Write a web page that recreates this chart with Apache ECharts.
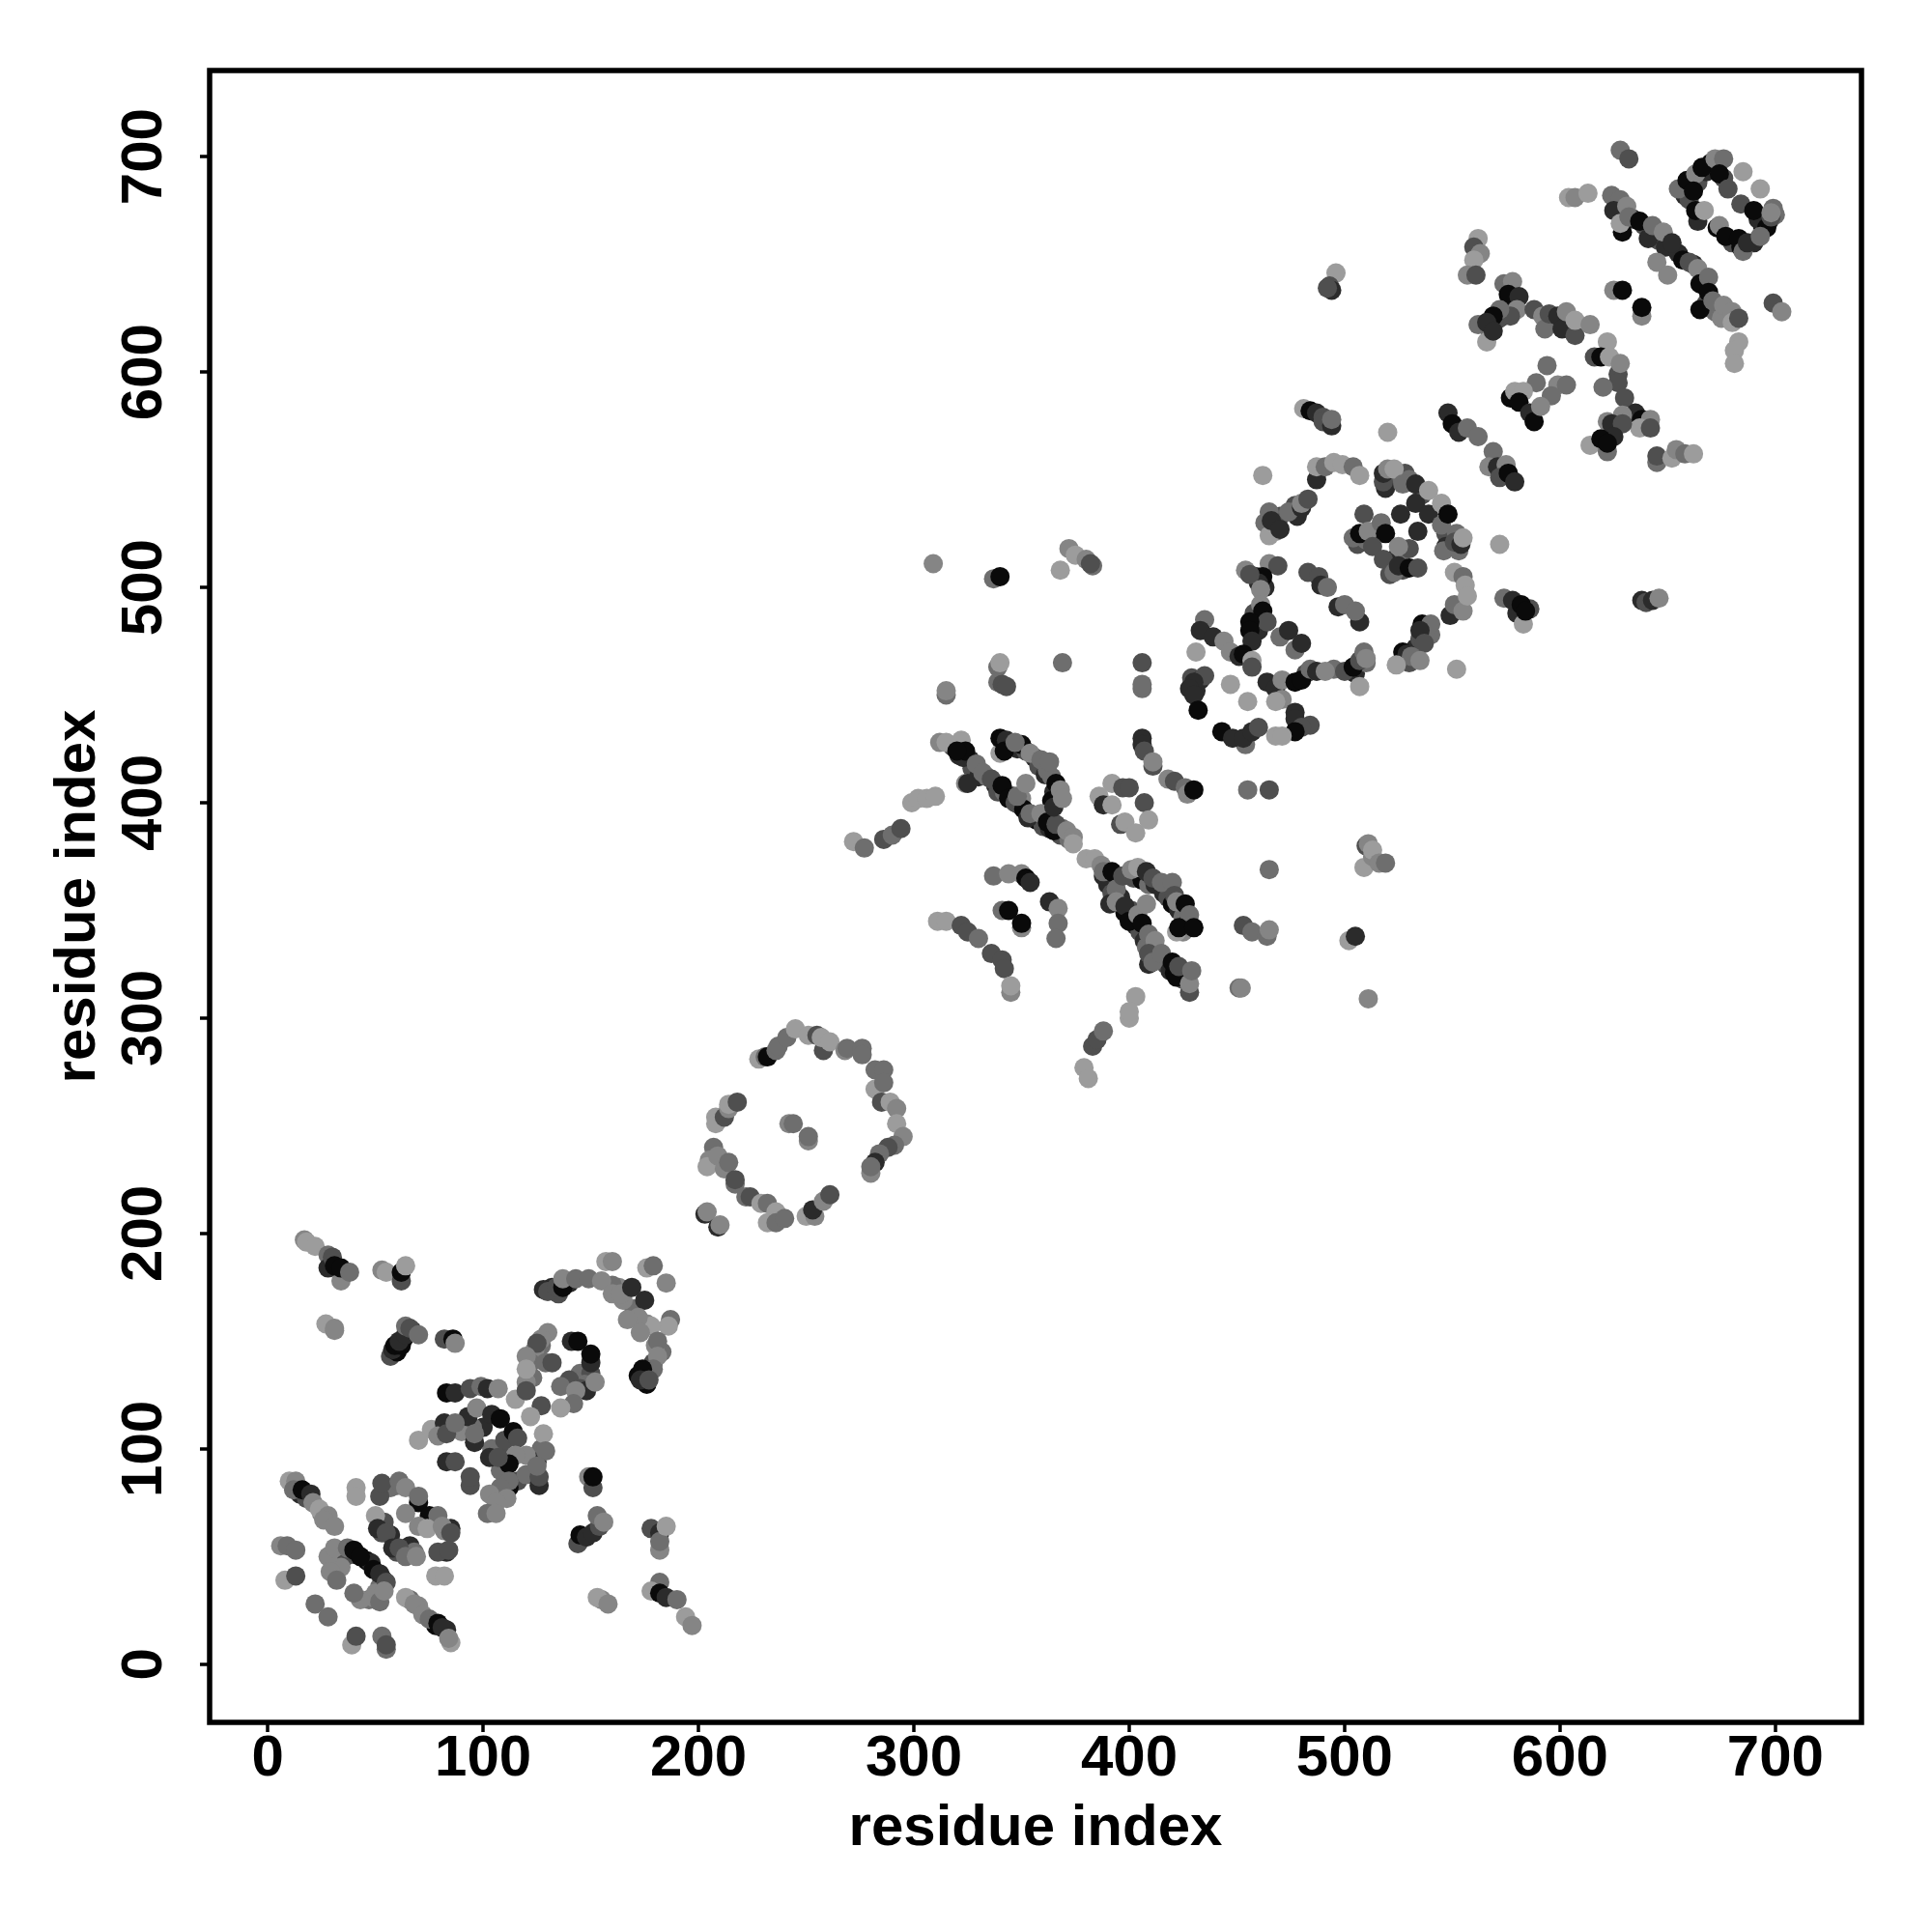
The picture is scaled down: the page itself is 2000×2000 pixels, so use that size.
<!DOCTYPE html>
<html><head><meta charset="utf-8">
<style>html,body{margin:0;padding:0;background:#fff}#c{width:2000px;height:2000px}</style>
<script src="https://cdn.jsdelivr.net/npm/echarts@6/dist/echarts.min.js"></script>
</head><body><div id="c"></div>
<script>
// each contact: [residue i, residue j, shade level 1 (black) .. 6 (light grey)]
const tickValues = [0,100,200,300,400,500,600,700];
const axisTitle = 'residue index';
const blockFill = [[318,426,3],[321,422,2],[326,420,2],[327,416,3],[330,412,2],[334,412,4],[338,408,2],[339,405,3],[342,405,4],[346,403,2],[349,399,2],[350,402,5],[355,393,3],[357,392,1],[360,389,3],[363,388,2],[368,385,3],[369,388,4],[372,383,4],
[345,426,1],[348,425,2],[352,424,3],[356,421,2],[358,417,3],[361,413,2],[364,412,4],[365,405,2],[366,402,3],[364,401,1],
[390,362,2],[392,358,3],[396,356,2],[398,349,1],[401,350,3],[403,343,2],[405,340,3],[407,336,2],[408,333,4],[411,330,5],[414,327,2],[417,325,3],[419,322,2],[421,321,1],[425,318,3],[427,320,5],
[402,365,3],[406,364,1],[409,362,4],[412,362,2],[416,358,2],[418,356,3],[420,353,1],[423,350,2],[425,347,4],[427,344,2],[425,340,5],
[634,671,2],[639,668,3],[646,661,3],[649,658,2],[655,655,2],[662,650,2],[667,640,2],[668,632,3],[672,628,4],[677,628,3],[675,625,5],[664,688,3],[668,693,2],[670,697,1],[673,695,2],[676,690,3],[658,682,2],[660,680,3],[664,670,2],[680,660,3],[684,658,1],[690,660,2],[694,668,1],[697,670,2],[700,673,4],[692,671,2],[575,630,2],[572,625,3],[567,620,4],
[108,100,3],[104,100,4],[100,110,2],[110,104,3],[92,112,3],[95,110,4],[90,108,5],[108,90,4],[116,85,3],[120,88,4],[125,97,5],[127,100,4],
[460,480,2],[458,488,3],[463,500,2],[459,505,2],[431,452,2],[429,458,3],[433,457,2],[482,460,3],[495,462,4],[505,460,2],[510,465,4],[530,465,3],[533,472,2],[535,476,3],[538,480,3],[540,478,4],[527,508,3],[521,506,3],[523,513,2],[527,517,4],[512,525,2],[506,520,3],[510,522,4],[547,525,3],[552,525,4],[547,519,2],[553,517,4],[528,553,3],[522,551,4],[519,546,2],[530,550,4],[536,543,3],[470,533,3],[477,538,3],[468,526,5],[478,533,2],[463,530,4],[586,490,3],[580,488,2],
[60,147,3],[63,151,1],[67,155,2],[40,51,2],[46,48,1],[48,47,2],[53,40,1],[52,36,4],[50,33,5],[47,30,4],[30,48,4],[34,52,4],[36,50,3],[34,45,5],[78,18,1],[83,16,2],[70,27,5],[66,30,4],[12,83,3],[15,79,2],[18,77,3],[25,70,5],[60,83,4],[57,82,4],[52,65,4],[54,66,3],[57,60,2],[53,61,3],[60,52,3],[66,55,2],[68,52,4],[85,63,2],[82,62,5],[83,52,2],[140,177,2],[132,175,2],[128,174,2],[135,172,3],[170,165,4],[176,158,5],[183,145,4],[179,140,3],[175,134,2],[176,130,1],[172,134,1],[180,148,5],[163,175,5],[160,176,4],[165,169,5],[127,148,4],[124,146,5],[122,140,4],[123,133,4],[120,131,5],[145,135,4],[150,135,3],[147,130,4],[145,128,3]];
const blockOffDiagLow = [[17,197,5],[18,196,6],[22,194,6],[34,178,5],[28,190,4],[28,184,2],[30,189,3],[31,185,1],[34,184,1],[38,182,4],
[53,183,5],[55,182,6],[62,178,3],[62,182,1],[64,185,6],[27,158,6],[31,155,5],[31,156,5],
[57,143,3],[60,145,1],[58,146,2],[59,148,1],[62,148,1],[61,150,2],[64,153,2],[64,157,4],[66,156,3],[70,153,4],
[82,151,3],[86,151,1],[87,149,5],[149,87,5],[151,82,3],[151,87,1],[144,56,3],[145,60,1],[148,59,2],[151,61,2],[154,64,3],[153,69,4],[156,66,5],
[178,63,3],[182,61,2],[182,53,5],[182,57,4],[185,64,6],[155,30,5],[153,31,6],[158,28,5],
[182,38,4],[178,34,6],[182,33,1],[185,31,2],[190,30,4],[194,22,6],[197,18,5]];
const blockTopArc = [[130,173,3],[134,175,3],[137,175,1],[137,179,5],[143,179,4],[149,179,4],[155,178,5],[157,187,6],[160,187,5],[160,172,5],[164,172,5],[169,175,2],[175,169,2],
[176,184,6],[179,185,4],[185,177,5],[187,160,4],[186,157,6],[178,157,6],[172,161,5],[167,160,5],[173,154,5],[181,150,4],[181,143,5],[179,137,4],[174,137,1],[173,132,2],[177,132,3]];
const blockCoilA = [[130,154,5],[127,151,5],[125,149,3],[120,143,5],[120,137,6],[129,140,4],[132,140,3],[141,150,2],[144,150,1],[150,140,2],[150,144,1],[140,132,3],[136,129,4],[148,127,2],[152,131,5],[143,127,5],[142,121,4],[136,119,6],[115,123,6],[120,127,3],[127,120,3],[122,115,6],
[83,126,1],[87,126,2],[94,128,3],[99,129,4],[102,128,2],[107,128,5],[93,115,2],[97,119,5],[104,116,2],[108,114,1],[96,103,2],[96,107,4],[114,108,1],[116,105,3],[128,107,6],[125,94,2],[129,99,4],[120,97,5],[115,97,5],[112,93,1],[103,96,2],[107,96,3],
[70,104,6],[76,109,6],[82,112,2],[79,106,5],[83,107,3],[87,112,4],[83,94,2],[87,94,3],[94,83,3],[94,87,3],[112,82,1],[112,85,4],[108,82,4],[103,79,5],[111,77,5],[106,75,5],[102,70,4],[106,70,5],[126,83,2],[126,87,3],[125,92,4]];
const blockCoilB = [[10,85,6],[13,85,5],[12,81,4],[16,81,1],[20,79,2],[21,75,5],[24,72,6],[28,69,5],[26,67,5],[31,64,5],[41,82,6],[41,78,6],
[52,78,3],[53,84,3],[61,85,4],[64,82,5],[70,75,1],[70,78,4],[64,70,5],[75,69,1],[79,69,4],[70,64,5],[74,63,6],[81,64,5],[85,61,3],[79,52,3],[84,53,3],[78,41,6],[82,41,6],
[50,69,6],[51,63,2],[55,61,3],[58,54,2],[61,54,3],[64,50,4],[69,50,5],[6,55,5],[9,55,4],[13,53,4],[8,39,6],[13,41,3],
[28,50,5],[29,43,5],[32,39,4],[31,54,5],[37,54,4],[40,53,1],[43,50,1],[49,44,1],[52,42,2],[55,38,3],[49,31,5],[43,30,5],[40,33,4],[52,29,4],[54,34,5],
[22,28,4],[28,22,4],[39,9,6],[41,13,3],[53,13,4],[55,7,4],[55,9,3],[64,31,6],[68,28,5],[72,23,5],[75,21,4],[79,19,1],[81,17,2],[85,10,6],[84,12,5]];
const blockRing = [[228,281,6],[231,282,4],[232,282,1],[236,285,4],[237,287,4],[241,291,4],[245,295,6],[251,292,6],[255,292,3],[258,285,3],[257,291,6],[261,289,6],[268,285,5],[269,286,4],[276,286,4],[276,283,4],[282,276,4],[286,276,4],[282,267,6],[286,270,4],[285,261,3],[289,261,6],[292,258,5],[292,251,6],[295,245,5],[291,241,4],[288,240,3],[284,237,4],[282,233,2],[280,228,5],[280,231,4],
[208,254,6],[208,251,6],[212,254,3],[214,258,5],[214,260,6],[218,261,3],[207,240,4],[205,234,5],[204,231,6],[209,236,5],[212,230,5],[214,233,4],[217,223,4],[217,225,3],[222,217,4],[224,217,3],[229,214,6],[232,214,4],[236,210,6],[232,205,6],[236,205,4],[240,207,4],
[250,208,6],[254,208,5],[253,211,2],[258,215,5],[261,218,3],[203,209,2],[204,210,5],[209,203,2],[210,204,5],[242,251,5],[244,251,4],[251,243,5],[251,245,4]];
const blockBarrelUpper = [[315,450,4],[315,452,5],[339,463,4],[340,465,6],[339,456,4],[341,455,3],[343,454,3],[369,465,4],[406,465,3],[406,453,4],[406,455,4],[455,406,4],[465,406,3],[465,369,4],[451,314,4],[452,314,5],[453,343,3],[457,340,4],[464,338,4],[465,341,5],
[272,382,6],[277,379,4],[286,383,3],[290,385,4],[294,388,3],[299,400,6],[302,402,6],[306,402,6],[310,403,6],
[312,428,5],[315,428,6],[322,429,6],[323,421,2],[324,424,1],[320,424,1],[329,418,4],[324,409,5],[325,409,2],[332,414,4],[336,411,3],[341,408,1],[344,402,1],[347,400,3],[351,397,1],[353,393,2],[354,395,4],[359,395,5],[362,391,1],[365,387,1],[366,390,3],[371,387,5],[374,384,5],[374,381,6],[348,403,4],[352,409,5],
[340,423,6],[340,430,1],[343,429,2],[342,424,1],[350,427,1],[347,428,4],[354,423,5],[359,420,4],[362,415,4],[363,419,4],[366,409,1],[365,398,2],[368,406,5],[369,402,5],
[392,409,6],[397,407,3],[400,407,3],[386,403,6],[388,399,2],[392,399,6],[407,400,3],[396,390,3],[398,391,6],[403,386,6],[409,392,6],
[406,430,2],[406,427,2],[407,424,3],[411,417,3],[411,419,5],[418,411,5],[421,410,3],[426,407,4],[427,404,5],[430,406,1]];
const blockBarrelLower = [[380,374,6],[384,374,6],[387,371,5],[388,366,2],[388,368,4],[392,368,1],[394,360,4],[397,366,3],[401,369,5],[404,370,6],[408,368,2],[411,365,3],[415,363,4],[420,363,4],[421,357,3],[422,354,5],[426,353,1],[428,348,4],[422,340,6],[423,342,1],[430,342,1],
[391,353,2],[394,354,5],[398,352,2],[400,345,1],[404,348,5],[406,344,1],[408,353,5],[409,339,4],[412,336,5],[409,325,2],[409,330,3],[411,326,4],[415,330,4],[420,326,1],[422,319,1],[423,324,3],[428,312,3],[428,316,5],[429,322,4],
[337,366,4],[344,367,5],[350,367,5],[352,365,1],[354,363,2],[363,354,2],[367,351,5],[367,344,4],[366,337,4],[341,350,4],[344,350,1],[350,342,5],[350,344,1],
[311,345,6],[315,345,6],[322,343,3],[325,340,3],[330,337,4],[336,330,3],[341,327,3],[342,323,3],[345,312,5],[345,315,6],
[403,310,6],[400,300,6],[400,303,6],[383,287,3],[385,290,3],[388,294,4],[379,277,6],[381,272,6]];
const blockCentral = [[481,583,6],[484,582,1],[487,581,2],[490,579,3],[490,577,3],[494,575,2],[494,578,4],[462,552,6],[520,572,6],
[465,524,6],[465,535,4],[466,531,2],[470,527,2],[474,535,4],[480,537,2],[480,539,5],[483,541,3],[487,550,2],[487,556,6],[491,556,4],[495,558,6],[499,557,6],[504,556,4],[507,552,6],
[518,549,3],[518,553,2],[520,555,5],[523,555,6],[527,548,4],[533,548,2],[533,539,2],[539,545,6],[539,534,2],[545,539,6],[545,529,4],[548,534,1],[546,517,4],[551,521,3],[554,520,2],[555,523,6],
[509,534,3],[504,523,4],[507,525,1],[511,526,5],[517,530,4],[519,525,1],[513,519,3],[526,534,2],[534,526,2],[530,518,3],[525,519,5],[518,513,3],[523,507,4],[525,510,2],[530,509,1],[534,509,3],[572,520,6],
[551,507,6],[555,505,4],[556,501,6],[549,487,2],[551,492,4],[555,489,5],[557,496,6],[583,483,6],[574,495,4],[578,494,2],[582,492,1],[584,489,1],
[536,483,1],[540,483,4],[535,480,2],[537,474,3],[527,470,1],[529,469,2],[531,468,4],[535,466,5],[524,464,6],[552,462,6],
[483,507,3],[488,505,3],[489,501,2],[492,500,4],[497,491,2],[500,492,4],[507,484,2],[505,489,4],
[465,511,5],[469,510,3],[462,505,1],[460,502,2],[454,508,5],[456,506,3],[461,499,5],[461,492,5],[462,489,1],[464,484,3],[456,484,1],[456,480,1],[457,475,2],[470,477,4],[474,480,2],[477,471,4],[480,474,2],
[435,485,4],[433,480,2],[439,477,2],[444,475,5],[431,470,6],[447,470,5],[451,468,2],[453,469,1],[457,466,6],[457,463,3],
[435,459,3],[430,456,2],[428,453,2],[430,450,2],[432,443,1],[447,455,6],[455,447,6],
[464,456,2],[468,453,2],[471,457,5],[471,448,5],[468,447,6],[477,456,1],[480,457,1],[484,462,4],[487,461,2],[491,461,5],[500,461,3],[504,463,1],[507,466,3],[509,470,4],[510,467,5],[507,454,6],
[477,442,2],[477,439,2],[484,436,3],[480,435,3],[477,433,1],[468,431,6],[471,431,6],[443,433,1],[454,427,4],[448,430,2],[453,430,2],[457,433,2],[460,435,3],
[496,646,6],[493,640,3],[494,638,2],[492,639,3],[638,494,2],[640,493,3],[643,494,2],[646,495,5],
[510,380,3],[509,370,6],[511,381,5],[513,375,5],[513,378,6],[516,372,5],[519,372,4],[502,336,6],[505,338,2],[511,309,5],
[337,504,4],[340,505,1],[309,511,5],[368,508,6],[372,518,5],[375,515,6],[380,513,5],[383,510,4],[382,511,3]];
const blockCTerminal = [[628,703,4],[632,699,3],[604,681,6],[607,681,5],[613,683,6],[624,682,4],[628,680,4],[625,675,2],[631,677,5],[629,665,1],[628,669,6],[632,672,4],[637,670,1],[641,662,2],[643,668,4],[648,665,5],[652,660,2],[645,651,5],[650,645,5],[657,652,1],[660,651,3],[664,648,5],[665,641,1],[669,644,4],[665,629,1],[669,637,1],[671,633,4],[676,631,5],[680,628,5],[680,623,6],[683,625,3],[683,614,6],[681,610,6],[681,604,6],[699,632,3],[703,628,5],
[655,685,4],[659,689,1],[663,692,5],[666,695,1],[672,699,5],[676,699,4],[674,692,1],[678,685,3],[685,693,6],[693,685,6],[662,684,1],[663,675,1],[667,675,6],[673,667,1],[674,668,5],[677,663,1],[683,662,1],[685,656,4],[687,660,2],[684,678,3],[690,675,1],[696,667,1],[693,663,4],[698,672,3],[699,676,4],[698,674,5],
[562,662,6],[560,658,3],[563,655,5],[560,652,6],[557,645,5],[561,645,3],
[574,641,4],[578,642,5],[576,636,1],[581,635,2],[580,629,5],[577,626,3],[572,629,4],[569,626,1],[562,622,4],[566,623,2],[566,614,6],[569,619,2],
[588,629,3],[592,626,5],[593,620,4],[595,627,3],[599,626,2],[601,620,2],[603,628,5],[607,617,3],[607,624,6],[614,622,5],
[622,614,6],[616,607,3],[619,607,1],[623,607,6],[627,599,3],[628,604,5],[627,595,3],[620,593,4],[630,588,3],
[635,581,2],[629,580,5],[638,578,1],[642,578,5],[637,574,6],[642,574,3],[622,577,5],[624,576,2],[629,576,3],[625,570,2],[614,566,6],[622,563,4],[619,569,1],[622,567,1],
[645,558,4],[645,561,3],[652,560,6],[654,564,5],[658,562,4],[662,562,6],
[594,603,4],[589,595,4],[599,594,5],[603,594,4],[577,588,1],[579,591,6],[583,591,6],[581,586,1],[596,589,4],[586,581,2],[588,577,1],[591,584,5],
[548,581,2],[550,576,1],[553,572,2],[557,574,4],[562,570,4],[569,563,4],[567,556,5],[571,556,2],[575,557,5],[572,551,3],[576,553,1],[579,549,2],
[625,638,5],[629,638,1],[638,626,5],[638,630,1]];

const contacts = [].concat(blockFill, blockOffDiagLow, blockTopArc, blockCoilA, blockCoilB, blockRing, blockBarrelUpper, blockBarrelLower, blockCentral, blockCTerminal);
const font = '"Liberation Sans", Arial, sans-serif';
const axisCommon = {
  type:'value', min:-27, max:740, name:axisTitle, nameLocation:'middle', nameMoveOverlap:false,
  nameTextStyle:{fontFamily:font,fontWeight:'bold',fontSize:60,color:'#000'},
  axisLine:{show:false,onZero:false}, splitLine:{show:false},
  axisTick:{show:true,length:10,inside:false,customValues:tickValues,lineStyle:{color:'#000',width:3.5}},
  axisLabel:{show:true,customValues:tickValues,fontFamily:font,fontWeight:'bold',fontSize:60,color:'#000',showMinLabel:true,showMaxLabel:true}
};
const chart = echarts.init(document.getElementById('c'),null,{renderer:'canvas'});
chart.setOption({
  animation:false, backgroundColor:'#fff',
  grid:{left:217,right:73,top:73,bottom:217,show:true,borderColor:'#000',borderWidth:5.5,backgroundColor:'#fff'},
  xAxis:Object.assign({},axisCommon,{nameGap:80,axisLabel:Object.assign({},axisCommon.axisLabel,{margin:8})}),
  yAxis:Object.assign({},axisCommon,{nameGap:106,axisLabel:Object.assign({},axisCommon.axisLabel,{rotate:90,margin:37})}),
  visualMap:{show:false,type:'continuous',dimension:2,min:1,max:6,seriesIndex:0,inRange:{color:['#0a0a0a','#2b2b2b','#4f4f4f','#6e6e6e','#858585','#9c9c9c']}},
  series:[{type:'scatter',data:contacts,symbol:'circle',symbolSize:20,clip:false,itemStyle:{opacity:1},emphasis:{disabled:true}}]
});
</script></body></html>
